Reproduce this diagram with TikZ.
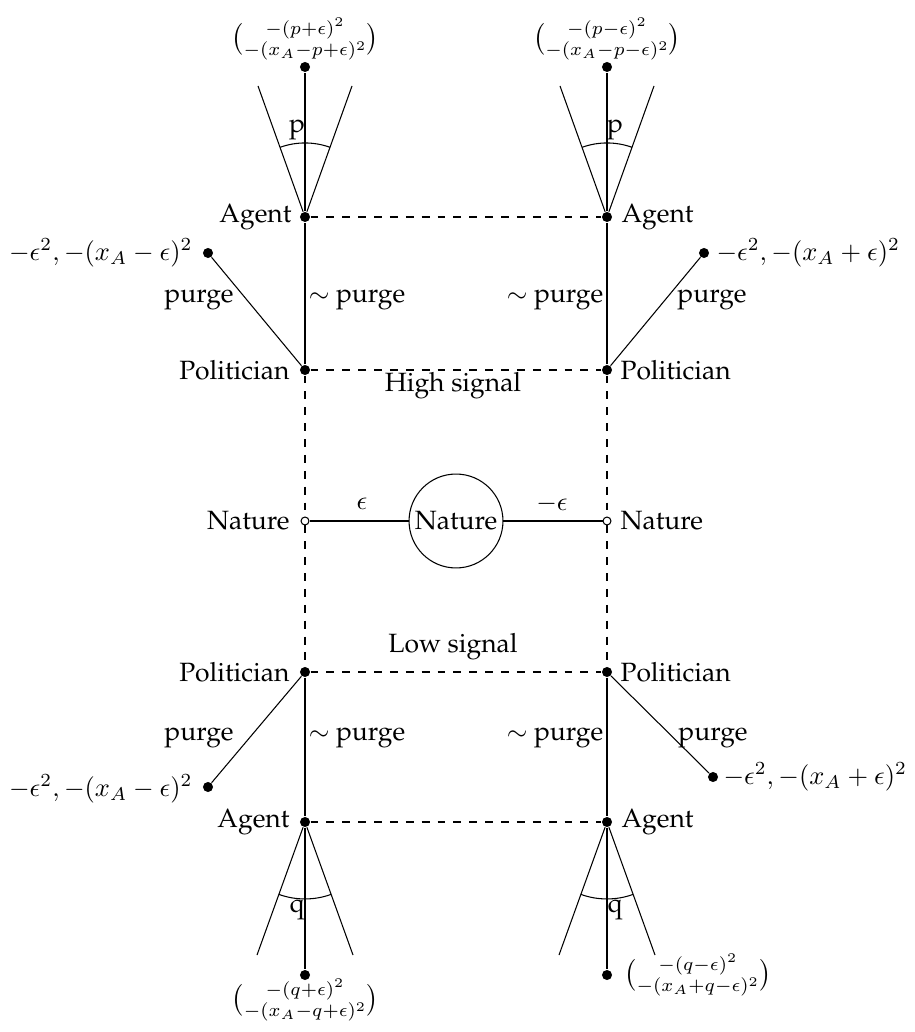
\documentclass[tikz,border=0pt]{standalone}
\usepackage[T1]{fontenc}
\renewcommand{\rmdefault}{ppl}
\usepackage{amsmath}
\begin{document}
\begin{tikzpicture}[x=0.378pt,y=-0.378pt,
  dot/.style={circle,fill,inner sep=0pt,minimum size=3.8pt},
  odot/.style={circle,draw,fill=white,inner sep=0pt,minimum size=3pt},
  bignat/.style={circle,draw,inner sep=0pt,minimum size=35.5pt},
  txt/.style={inner sep=0pt},
  dline/.style={dashed}]
\useasboundingbox (0,0) rectangle (914,1032);
% top
\node[dot] (tl) at (305,67) {};
\node[dot] (tr) at (607,67) {};
\node[txt,anchor=north] (ptl) at (305,17) {$\binom{-(p+\epsilon)^2}{-(x_A-p+\epsilon)^2}$};
\node[txt,anchor=north] (ptr) at (607,17) {$\binom{-(p-\epsilon)^2}{-(x_A-p-\epsilon)^2}$};
\node[dot] (al) at (305,217) {};
\node[dot] (ar) at (607,217) {};
\node[txt,anchor=east] (alt) at (292,217) {Agent};
\node[txt,anchor=west] (art) at (621,217) {Agent};
\coordinate (cl1) at (258,86);
\coordinate (cl2) at (352,86);
\coordinate (cr1) at (560,86);
\coordinate (cr2) at (654,86);
\draw (al) -- (cl1);
\draw (al) -- (cl2);
\draw (ar) -- (cr1);
\draw (ar) -- (cr2);
\draw (al) -- (tl);
\draw (ar) -- (tr);
\draw (280.1,147.3) arc[start angle=-109.7,end angle=-70.3,radius=74];
\draw (582.1,147.3) arc[start angle=-109.7,end angle=-70.3,radius=74];
\node[txt] (pl) at (297,130) {p};
\node[txt] (pr) at (615,130) {p};
\draw[dline] (al) -- (ar);
% high politicians
\node[dot] (hl) at (305,370) {};
\node[dot] (hr) at (607,370) {};
\node[txt,anchor=east] (hlt) at (290,370) {Politician};
\node[txt,anchor=west] (hrt) at (620,370) {Politician};
\draw (hl) -- (al);
\draw (hr) -- (ar);
\draw[dline] (hl) -- (hr);
\node[txt] (hs) at (453,386) {High signal};
\node[dot] (el1) at (208,253) {};
\node[dot] (er1) at (704,253) {};
\draw (hl) -- (el1);
\draw (hr) -- (er1);
\node[txt,anchor=east] (el1t) at (193,253) {$-\epsilon^2,-(x_A-\epsilon)^2$};
\node[txt,anchor=west] (er1t) at (716,253) {$-\epsilon^2,-(x_A+\epsilon)^2$};
\node[txt] (pgl1) at (199,300) {purge};
\node[txt] (npl1) at (357,300) {$\sim$ purge};
\node[txt] (npr1) at (555,300) {$\sim$ purge};
\node[txt] (pgr1) at (712,300) {purge};
% nature
\node[odot] (nl) at (305,521) {};
\node[odot] (nr) at (607,521) {};
\node[bignat] (nc) at (456,521) {Nature};
\node[txt,anchor=east] (nlt) at (290,521) {Nature};
\node[txt,anchor=west] (nrt) at (620,521) {Nature};
\draw (nc) -- (nl);
\draw (nc) -- (nr);
\node[txt] (eps) at (362,504) {$\epsilon$};
\node[txt] (meps) at (552,504) {$-\epsilon$};
% low politicians
\node[dot] (ll) at (305,672) {};
\node[dot] (lr) at (607,672) {};
\node[txt,anchor=east] (llt) at (290,672) {Politician};
\node[txt,anchor=west] (lrt) at (620,672) {Politician};
\draw[dline] (hl) -- (nl);
\draw[dline] (nl) -- (ll);
\draw[dline] (hr) -- (nr);
\draw[dline] (nr) -- (lr);
\draw[dline] (ll) -- (lr);
\node[txt] (ls) at (453,647) {Low signal};
\node[dot] (el2) at (208,787) {};
\node[dot] (er2) at (713,777) {};
\draw (ll) -- (el2);
\draw (lr) -- (er2);
\node[txt,anchor=east] (el2t) at (193,789) {$-\epsilon^2,-(x_A-\epsilon)^2$};
\node[txt,anchor=west] (er2t) at (723,777) {$-\epsilon^2,-(x_A+\epsilon)^2$};
\node[txt] (pgl2) at (199,738) {purge};
\node[txt] (npl2) at (357,738) {$\sim$ purge};
\node[txt] (npr2) at (555,738) {$\sim$ purge};
\node[txt] (pgr2) at (713,738) {purge};
% bottom agents
\node[dot] (bl) at (305,822) {};
\node[dot] (br) at (607,822) {};
\node[txt,anchor=east] (blt) at (290,822) {Agent};
\node[txt,anchor=west] (brt) at (621,822) {Agent};
\draw (ll) -- (bl);
\draw (lr) -- (br);
\draw[dline] (bl) -- (br);
\coordinate (dl1) at (257,955);
\coordinate (dl2) at (353,955);
\coordinate (dr1) at (559,955);
\coordinate (dr2) at (655,955);
\draw (bl) -- (dl1);
\draw (bl) -- (dl2);
\draw (br) -- (dr1);
\draw (br) -- (dr2);
\draw (278.9,894.4) arc[start angle=109.8,end angle=70.2,radius=77];
\draw (580.9,894.4) arc[start angle=109.8,end angle=70.2,radius=77];
\node[txt] (ql) at (297,910) {q};
\node[txt] (qr) at (615,910) {q};
\node[dot] (fl) at (305,975) {};
\node[dot] (fr) at (607,975) {};
\draw (bl) -- (fl);
\draw (br) -- (fr);
\node[txt,anchor=south] (pfl) at (305,1022) {$\binom{-(q+\epsilon)^2}{-(x_A-q+\epsilon)^2}$};
\node[txt,anchor=west] (pfr) at (624,975) {$\binom{-(q-\epsilon)^2}{-(x_A+q-\epsilon)^2}$};
\end{tikzpicture}
\end{document}
